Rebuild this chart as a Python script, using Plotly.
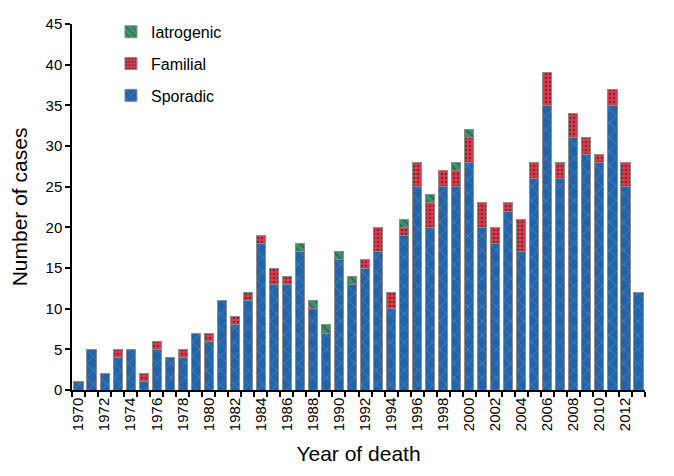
import plotly.graph_objects as go

years = list(range(1970, 2014))
sporadic = [1, 5, 2, 4, 5, 1, 5, 4, 4, 7, 6, 11, 8, 11, 18, 13, 13, 17, 10, 7,
            16, 13, 15, 17, 10, 19, 25, 20, 25, 25, 28, 20, 18, 22, 17, 26, 35, 26,
            31, 29, 28, 35, 25, 12]
familial = [0, 0, 0, 1, 0, 1, 1, 0, 1, 0, 1, 0, 1, 1, 1, 2, 1, 0, 0, 0,
            0, 0, 1, 3, 2, 1, 3, 3, 2, 2, 3, 3, 2, 1, 4, 2, 4, 2,
            3, 2, 1, 2, 3, 0]
iatrogenic = [0, 0, 0, 0, 0, 0, 0, 0, 0, 0, 0, 0, 0, 0, 0, 0, 0, 1, 1, 1,
              1, 1, 0, 0, 0, 1, 0, 1, 0, 1, 1, 0, 0, 0, 0, 0, 0, 0,
              0, 0, 0, 0, 0, 0]
label_years = list(range(1970, 2014, 2))
y_ticks = list(range(0, 50, 5))

FONT = "Arial, Liberation Sans, sans-serif"
line = dict(color="#8c8c8c", width=1)

fig = go.Figure()
fig.add_trace(go.Bar(
    x=years, y=sporadic, name="Sporadic", legendgroup="s", legendrank=3,
    marker=dict(color="#2463A8", line=line,
                pattern=dict(shape="x", fgcolor="#86B8E4", size=10, solidity=0.13)),
))
fig.add_trace(go.Bar(
    x=years, y=familial, name="Familial", legendgroup="f", legendrank=2,
    marker=dict(color="#E03A4A", line=line,
                pattern=dict(shape=".", fgcolor="#1a1a1a", size=4, solidity=0.35)),
))
fig.add_trace(go.Bar(
    x=years, y=iatrogenic, name="Iatrogenic", legendgroup="i", legendrank=1,
    marker=dict(color="#3A9468", line=line,
                pattern=dict(shape="\\", fgcolor="#1a1a1a", size=6, solidity=0.2)),
))

fig.update_layout(
    barmode="stack",
    bargap=0.3,
    width=666, height=468,
    margin=dict(l=64, r=29, t=16, b=86, autoexpand=False),
    paper_bgcolor="white", plot_bgcolor="white",
    font=dict(family=FONT, color="black", size=15),
    showlegend=True,
    legend=dict(
        x=0.068, y=1.025, xanchor="left", yanchor="top",
        traceorder="grouped", tracegroupgap=8,
        font=dict(size=16, family=FONT), bgcolor="rgba(0,0,0,0)",
    ),
    xaxis=dict(
        range=[1969.5, 2013.5],
        tickmode="array", tickvals=label_years, ticktext=[str(y) for y in label_years],
        tickangle=-90, ticks="", showgrid=False, zeroline=False,
        showline=True, linecolor="black", linewidth=1.5,
        tickfont=dict(size=15),
        minor=dict(tickmode="linear", tick0=1969.5, dtick=1, ticks="outside",
                   ticklen=5, tickcolor="black", tickwidth=1.5, showgrid=False),
        title=dict(text="Year of death", font=dict(size=21), standoff=16),
    ),
    yaxis=dict(
        range=[0, 45], tickmode="array", tickvals=y_ticks,
        ticks="outside", ticklen=5, tickcolor="black", tickwidth=1.5,
        showgrid=False, zeroline=False,
        showline=True, linecolor="black", linewidth=1.5,
        tickfont=dict(size=15),
        title=dict(text="Number of cases", font=dict(size=21), standoff=22),
    ),
)

fig.write_html("out.html")
